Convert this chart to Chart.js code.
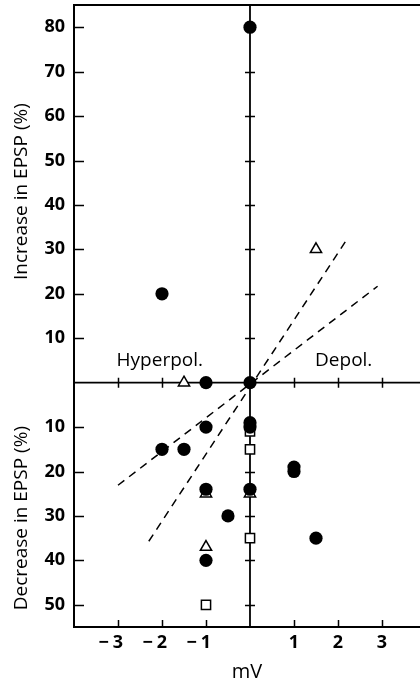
<!DOCTYPE html>
<html>
<head>
<meta charset="utf-8">
<script src="https://cdn.jsdelivr.net/npm/chart.js@4"></script>
<style>
  html, body { margin: 0; padding: 0; background: #fff; overflow: hidden; }
  #wrap { width: 420px; height: 684px; position: relative; }
</style>
</head>
<body>
<div id="wrap"><canvas id="chart"></canvas></div>
<script>
// EPSP change vs membrane potential shift

// filled circles
const circleX = [0, -2, -1, 0, -1, 0, 0, -2, -1.5, -1, 0, -0.5, 1, 1, 1.5, -1];
const circleY = [80, 20, 0, 0, -10, -9, -10, -15, -15, -24, -24, -30, -19, -20, -35, -40];

// open triangles
const triX = [1.5, -1.5, -1, 0, -1];
const triY = [30, 0, -25, -25, -37];

// open squares
const squareX = [0, 0, 0, -1];
const squareY = [-11, -15, -35, -50];

// dashed regression lines (end points)
const steepX = [-2.3, 2.2];
const steepY = [-35.7, 32.2];
const shallowX = [-3, 2.9];
const shallowY = [-23.1, 21.7];

const xTicks = [-3, -2, -1, 1, 2, 3];
const yTicks = [-50, -40, -30, -20, -10, 10, 20, 30, 40, 50, 60, 70, 80];

const FONT = '"Open Sans", "DejaVu Sans", sans-serif';

const pts = (xs, ys) => xs.map((x, i) => ({ x: x, y: ys[i] }));

const noPad = s => { s.paddingTop = 0; s.paddingBottom = 0; s.paddingLeft = 0; s.paddingRight = 0; };

const axesPlugin = {
    id: 'axes',
    beforeDatasetsDraw(chart) {
        const { ctx, chartArea: a, scales: { x, y } } = chart;
        const x0 = x.getPixelForValue(0);
        const y0 = y.getPixelForValue(0);
        ctx.save();
        ctx.strokeStyle = '#000';
        ctx.lineCap = 'butt';

        // frame: left, top, bottom
        ctx.lineWidth = 2;
        ctx.beginPath();
        ctx.moveTo(a.right, a.top); ctx.lineTo(a.left, a.top);
        ctx.lineTo(a.left, a.bottom); ctx.lineTo(a.right, a.bottom);
        ctx.stroke();

        // zero axes
        ctx.lineWidth = 1.8;
        ctx.beginPath();
        ctx.moveTo(a.left, y0); ctx.lineTo(a.right, y0);
        ctx.moveTo(x0, a.top); ctx.lineTo(x0, a.bottom);
        ctx.stroke();

        // ticks
        ctx.lineWidth = 1.5;
        ctx.beginPath();
        yTicks.forEach(v => {
            const py = Math.round(y.getPixelForValue(v)) + 0.5;
            ctx.moveTo(a.left, py); ctx.lineTo(a.left + 10, py);
            ctx.moveTo(x0 - 5, py); ctx.lineTo(x0 + 5, py);
        });
        xTicks.forEach(v => {
            const px = Math.round(x.getPixelForValue(v)) + 0.5;
            ctx.moveTo(px, a.bottom); ctx.lineTo(px, a.bottom - 7);
            ctx.moveTo(px, y0 - 5); ctx.lineTo(px, y0 + 5);
        });
        ctx.stroke();

        // x tick labels: digit centred on tick, minus sign hanging left
        ctx.fillStyle = '#000';
        ctx.font = 'bold 18px ' + FONT;
        ctx.textBaseline = 'middle';
        xTicks.forEach(v => {
            const px = x.getPixelForValue(v);
            const digit = String(Math.abs(v));
            const w = ctx.measureText(digit).width;
            ctx.textAlign = 'center';
            ctx.fillText(digit, px, a.bottom + 16);
            if (v < 0) {
                ctx.textAlign = 'right';
                ctx.fillText('\u2212', px - w / 2 - 4, a.bottom + 16);
            }
        });

        // region labels
        ctx.font = '19px ' + FONT;
        ctx.textAlign = 'center';
        ctx.fillText('Hyperpol.', x.getPixelForValue(-2.05), y0 - 22);
        ctx.fillText('Depol.', x.getPixelForValue(2.13), y0 - 22);

        // y axis titles
        ctx.font = '19px ' + FONT;
        ctx.translate(22, 0);
        ctx.rotate(-Math.PI / 2);
        ctx.fillText('Increase in EPSP (%)', -y.getPixelForValue(43), 0);
        ctx.fillText('Decrease in EPSP (%)', -y.getPixelForValue(-30.5), 0);
        ctx.restore();
    }
};

new Chart(document.getElementById('chart'), {
    type: 'scatter',
    data: {
        datasets: [
            {
                data: pts(circleX, circleY),
                pointStyle: 'circle',
                pointRadius: 6.6,
                backgroundColor: '#000',
                borderColor: '#000',
                borderWidth: 0
            },
            {
                data: pts(triX, triY),
                pointStyle: 'triangle',
                pointRadius: 6.5,
                backgroundColor: '#fff',
                borderColor: '#000',
                borderWidth: 1.5
            },
            {
                data: pts(squareX, squareY),
                pointStyle: 'rect',
                pointRadius: 6.5,
                backgroundColor: '#fff',
                borderColor: '#000',
                borderWidth: 1.5
            },
            {
                data: pts(steepX, steepY),
                showLine: true,
                pointRadius: 0,
                borderColor: '#000',
                borderWidth: 1.5,
                borderDash: [8, 6]
            },
            {
                data: pts(shallowX, shallowY),
                showLine: true,
                pointRadius: 0,
                borderColor: '#000',
                borderWidth: 1.5,
                borderDash: [8, 6]
            }
        ]
    },
    options: {
        responsive: true,
        maintainAspectRatio: false,
        animation: false,
        layout: { autoPadding: false, padding: { top: 5, right: 0, left: 0, bottom: 0 } },
        plugins: {
            legend: { display: false },
            tooltip: { enabled: false }
        },
        scales: {
            x: {
                type: 'linear',
                min: -4,
                max: 3.864,
                grid: { display: false },
                border: { display: false },
                ticks: { display: false },
                title: {
                    display: true,
                    text: 'mV',
                    color: '#000',
                    font: { family: FONT, size: 20 },
                    padding: { top: 0, bottom: 0 }
                },
                afterFit: s => { s.height = 57; noPad(s); }
            },
            y: {
                type: 'linear',
                min: -55,
                max: 85,
                grid: { display: false, drawTicks: false },
                border: { display: false },
                afterBuildTicks: s => { s.ticks = yTicks.map(v => ({ value: v })); },
                ticks: {
                    color: '#000',
                    padding: 9,
                    font: { family: FONT, size: 18, weight: 'bold' },
                    callback: v => String(Math.abs(v))
                },
                afterFit: s => { s.width = 74; noPad(s); }
            }
        }
    },
    plugins: [axesPlugin]
});
</script>
</body>
</html>
